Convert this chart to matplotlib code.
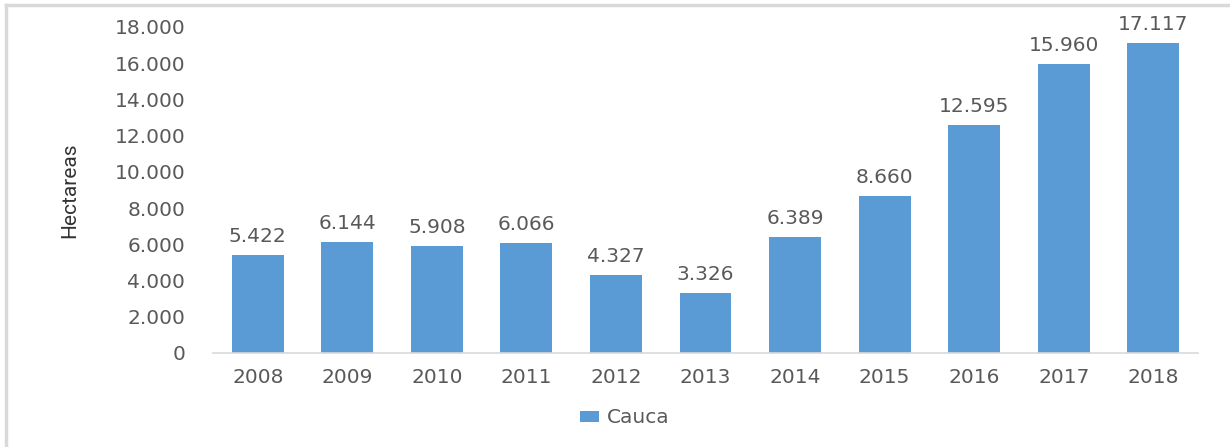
import matplotlib
matplotlib.use("Agg")
import matplotlib.pyplot as plt
from matplotlib.lines import Line2D

years = ["2008", "2009", "2010", "2011", "2012", "2013", "2014", "2015", "2016", "2017", "2018"]
hectareas = [5422, 6144, 5908, 6066, 4327, 3326, 6389, 8660, 12595, 15960, 17117]
y_ticks = [0, 2000, 4000, 6000, 8000, 10000, 12000, 14000, 16000, 18000]
serie = "Cauca"

bar_color = "#5B9BD5"
text_color = "#595959"


def fmt(v):
    # thousands separator with a dot, as in the original
    return "{:,}".format(v).replace(",", ".")


fig = plt.figure(figsize=(12.3, 4.47), dpi=100)
ax = fig.add_axes([0.1732, 0.2103, 0.8008, 0.7293])

x = list(range(len(years)))
bars = ax.bar(x, hectareas, width=0.58, color=bar_color, label=serie)

# value labels above the bars
for xi, v in zip(x, hectareas):
    ax.text(xi, v + 500, fmt(v), ha="center", va="bottom",
            fontsize=14.5, color=text_color)

ax.set_xlim(-0.5, len(years) - 0.5)
ax.set_ylim(0, 18000)
ax.set_yticks(y_ticks)
ax.set_yticklabels([fmt(t) for t in y_ticks])
ax.set_xticks(x)
ax.set_xticklabels(years)
ax.tick_params(axis="both", length=0, labelsize=14.5, labelcolor=text_color)
ax.tick_params(axis="y", pad=20)
ax.tick_params(axis="x", pad=11)

for side in ["top", "right", "left"]:
    ax.spines[side].set_visible(False)
ax.spines["bottom"].set_color("#D9D9D9")
ax.spines["bottom"].set_linewidth(1.2)

fig.text(0.057, 0.575, "Hectareas", rotation=90, ha="center", va="center",
         fontsize=15, color="#333333", family="Roboto")

# legend
fig.legend(loc="center", bbox_to_anchor=(0.508, 0.065),
           frameon=False, fontsize=14.5, labelcolor=text_color,
           handletextpad=0.4, handlelength=0.9, handleheight=0.5)

# light frame lines at top and left of the chart area
fig.add_artist(Line2D([0.005, 1.0], [0.989, 0.989], transform=fig.transFigure,
                      color="#D9D9D9", linewidth=2.5))
fig.add_artist(Line2D([0.005, 0.005], [0.0, 0.989], transform=fig.transFigure,
                      color="#D9D9D9", linewidth=2.5))

fig.savefig("out.png", dpi=100)
